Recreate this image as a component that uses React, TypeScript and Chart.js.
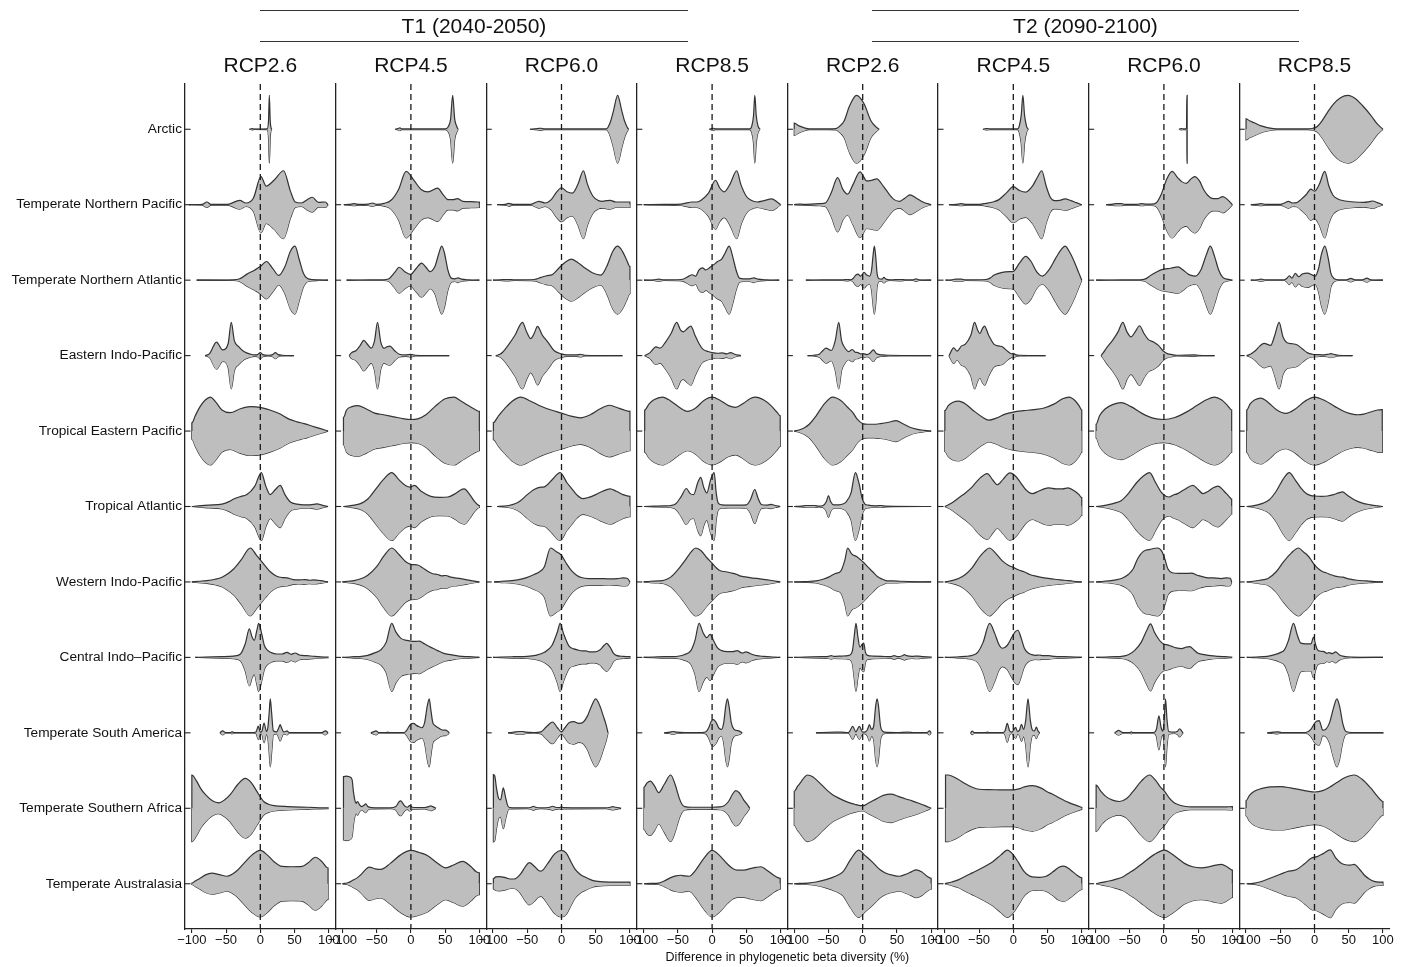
import React, { useEffect, useRef } from "react";
import { Chart, registerables } from "chart.js";

Chart.register(...registerables);

// ---------------- data ----------------
const REGIONS = [
  "Arctic",
  "Temperate Northern Pacific",
  "Temperate Northern Atlantic",
  "Eastern Indo-Pacific",
  "Tropical Eastern Pacific",
  "Tropical Atlantic",
  "Western Indo-Pacific",
  "Central Indo\u2013Pacific",
  "Temperate South America",
  "Temperate Southern Africa",
  "Temperate Australasia",
];
const PERIODS = ["T1 (2040-2050)", "T2 (2090-2100)"];
const SCENARIOS = ["RCP2.6", "RCP4.5", "RCP6.0", "RCP8.5"];
const X_TICKS = [-100, -50, 0, 50, 100];
const X_TITLE = "Difference in phylogenetic beta diversity (%)";

// Violin outlines: per region, [value, relative half-width in % of max]
const t1Rcp26 = [
  [[-16,0],[-12,2],[-9,0.5],[10,1],[12,25],[13.2,100],[14.5,25],[16,2],[17,0]],
  [[-104,0],[-85,1],[-78,8],[-72,1],[-48,1],[-30,13],[-21,5],[-10,20],[1,83],[8.5,55],[20,72],[34,100],[44,40],[51,8],[60,5],[70,17],[76,22],[85,7],[95,8],[99,0]],
  [[-93,0],[-40,1],[-30,4],[-20,17],[-8,30],[0,40],[9,55],[18,35],[27,14],[36,40],[44,85],[50.7,100],[57,60],[63,20],[70,4],[85,1],[99,0]],
  [[-80.5,0],[-74,6],[-64,40],[-55,17],[-47,35],[-42.4,98],[-38,45],[-32,27],[-24,12],[-14,4],[-8,2],[-4,3],[0,9],[3.5,3],[12,1],[18,3],[22,9],[26,3],[32,1],[49,0]],
  [[-100,24],[-95,45],[-88,72],[-80,92],[-73,100],[-65,85],[-56,62],[-44,54],[-30,65],[-15,72],[0,70],[14,62],[29,50],[42,35],[54,27],[64,22],[75,15],[88,7],[99,0]],
  [[-100,0],[-90,2],[-75,4],[-56,7],[-45,15],[-39,22],[-28,30],[-19.5,35],[-8,60],[1.5,100],[8,60],[14.6,35],[22,50],[29,62],[36,35],[44,13],[54,7],[63,5],[72,5],[78,6],[83,8],[90,4],[99,0]],
  [[-100,0],[-90,2],[-78,4],[-66,8],[-56,14],[-47,25],[-39,38],[-28,65],[-14.6,100],[-6,80],[0,65],[8,45],[14.6,30],[24,17],[32,13],[39,12],[48,7],[56,6],[65,7],[72,5],[78,6],[88,4],[99,0]],
  [[-95,0],[-80,1],[-56,2],[-39,4],[-29,10],[-22,40],[-16,84],[-12,60],[-8.8,50],[-5,80],[-2.4,100],[2,70],[6,35],[10,22],[16,14],[24,10],[32,10],[39,15],[45,9],[51,13],[57,7],[68,5],[80,3],[99,1]],
  [[-59,0],[-55,6],[-51,1],[-44,1],[-41.5,3],[-38,1],[-10,1],[-6,3],[-3,20],[0,2],[2,3],[5.5,29],[9,4],[11,15],[13,60],[14.6,100],[16.5,60],[19,6],[24,3],[27,15],[29,24],[31,15],[34,3],[37,4],[39,6],[42,1],[90,1],[95,6],[99,0]],
  [[-100,98],[-93,80],[-87,58],[-80,40],[-70,22],[-61,16],[-52,25],[-44,40],[-33,70],[-22,88],[-13,75],[-5,50],[5,20],[12,12],[20,8],[40,5],[70,3],[99,1]],
  [[-100,2],[-95,8],[-88,16],[-80,26],[-70.7,31],[-60,27],[-48.8,22],[-36,35],[-24,60],[-12,85],[0,98],[10,85],[20,65],[31.7,51],[45,50],[61,51],[70,62],[80.5,78],[90,65],[96,50],[99,46]],
];

const t1Rcp45 = [
  [[-23,0],[-19,2],[-16,4],[-13,1],[50,1],[54,6],[58,30],[61,100],[64,30],[67,8],[69,0]],
  [[-98,0],[-90,1],[-83,3],[-75,1],[-62,2],[-56,5],[-50,1],[-39,4],[-29,13],[-18,45],[-7,98],[5,70],[15,45],[25,38],[39,49],[47,30],[54,15],[62,15],[68,18],[76,10],[88,9],[100,8]],
  [[-94,0],[-60,1],[-40,1],[-32,4],[-24,22],[-17,38],[-9,25],[-1,17],[8,35],[15.6,50],[22,38],[28,25],[35,40],[41,80],[45,100],[49,80],[54,30],[59,6],[64,4],[69,7],[74,3],[85,1],[100,0]],
  [[-90,0],[-87,8],[-80,15],[-74,30],[-69,45],[-63,32],[-58,22],[-53,45],[-48.8,98],[-44,40],[-39,22],[-35,26],[-30.7,28],[-24,15],[-17,4],[-8,2],[0,4],[6,1],[56,0]],
  [[-98.5,40],[-94,62],[-86,72],[-78,75],[-65,65],[-53,53],[-40,48],[-25,42],[-10,36],[0,34],[10,36],[22,48],[35,72],[50,95],[63,100],[72,90],[80,80],[88,70],[95,62],[100,58]],
  [[-98.5,0],[-90,2],[-83,4],[-72,10],[-63,22],[-50,55],[-40,80],[-28,100],[-18,80],[-8,62],[-1,57],[5,62],[15,45],[29,30],[42,27],[54,28],[65,38],[72,48],[78,52],[86,35],[93,15],[100,3]],
  [[-100,0],[-92,2],[-83,4],[-72,10],[-63,20],[-50,45],[-40,75],[-28,100],[-17,80],[-8,60],[0,52],[10,50],[17,42],[24,32],[32,24],[39,22],[45,18],[51,19],[58,14],[68,11],[80,7],[90,3],[100,0]],
  [[-100,0],[-90,1],[-83,2],[-72,3],[-63,6],[-52,14],[-44,22],[-36,45],[-28,100],[-22,75],[-14.6,56],[-6,50],[0,48],[7,47],[12,48],[18,42],[24,35],[32,27],[39,20],[48,12],[58.5,8],[70,4],[85,2],[100,0]],
  [[-58.5,0],[-55,3],[-51,6],[-47,1],[-36,1],[-34,2],[-32,1],[-10,1],[-6,8],[-3,18],[0,26],[4,28],[8,22],[12,18],[16,15],[20,30],[24,80],[26.8,100],[29,70],[32,30],[35,22],[40,15],[44,10],[48,8],[51,8],[54,4],[56,0]],
  [[-98.5,93],[-94,95],[-90,93],[-86,85],[-84,50],[-82,25],[-80,15],[-78,20],[-75,10],[-72,5],[-68,10],[-66,13],[-63,5],[-58,2],[-30,1],[-22,5],[-17,20],[-14.6,22],[-12,15],[-8,5],[-5,3],[-2,8],[0,7],[2,3],[20,2],[26,5],[29,7],[32,5],[36.6,0]],
  [[-100,0],[-97,1],[-92,3],[-85,10],[-78,18],[-73,27],[-67,40],[-61,49],[-52,44],[-44,42],[-30,60],[-15,85],[0,98],[12,92],[24,83],[38,62],[51,47],[62,55],[75.6,66],[88,50],[95,36],[100,32]],
];

const t1Rcp60 = [
  [[-46,0],[-35,2],[-30,3],[-25,1],[65,1],[68,6],[72,25],[76,55],[82,100],[88,55],[92,25],[96,6],[98,0]],
  [[-94,0],[-82,1],[-77,4],[-71,1],[-45,1],[-33,10],[-24,5],[-15,15],[-8,35],[0,50],[8,38],[16,34],[24,60],[32,100],[38,60],[46,25],[54,12],[60,10],[66,12],[71,13],[79,8],[90,8],[100,8]],
  [[-100,0],[-90,1],[-79,2],[-68,1],[-40,2],[-30,8],[-22,13],[-13,17],[-4,35],[5,52],[14.6,62],[25,50],[35,35],[45,22],[57.6,15],[66,40],[75,85],[82,100],[89,85],[95,60],[100,40]],
  [[-96,0],[-90,4],[-86,10],[-78,30],[-68,60],[-57,98],[-51,70],[-45,50],[-40,65],[-35,86],[-28,60],[-20,40],[-11,15],[0,5],[8,2],[22,2],[28,4],[34,1],[89,0]],
  [[-99.5,25],[-92,45],[-83,66],[-72,88],[-59.5,100],[-45,88],[-30,73],[-15,62],[0,53],[14,44],[28,39],[42,48],[56,65],[70,76],[80,70],[90,63],[100,58]],
  [[-94,0],[-85,1],[-77,3],[-68,8],[-60,17],[-50,35],[-40,50],[-30,57],[-25,58],[-14,78],[-2,100],[8,70],[14,55],[22,35],[31,23],[40,27],[50,35],[60,45],[71,52],[80,45],[90,35],[100,30]],
  [[-98.5,0],[-88,2],[-76,3],[-64,6],[-52,12],[-40,22],[-32,30],[-25,45],[-16,100],[-8,90],[0,78],[7,55],[14,35],[22,20],[29,13],[40,10],[55,10],[70,9],[82,10],[90,12],[96,11],[100,0]],
  [[-100,0],[-88,1],[-70,2],[-50,3],[-38,6],[-25,15],[-14,35],[-6,75],[-2,100],[3,70],[11,33],[18,25],[23.4,22],[30,19],[35.6,19],[42,16],[48,16],[56,22],[62,35],[66,41],[71,30],[76,12],[80,6],[90,3],[100,2]],
  [[-78,0],[-70,2],[-62,4],[-57,4],[-52,2],[-40,1],[-30,3],[-22,18],[-13,32],[-6,15],[0,3],[5,15],[11,30],[18,33],[25,28],[32,32],[38,50],[44,80],[50,100],[56,80],[61,50],[65,25],[68,0]],
  [[-99.5,99],[-97.5,95],[-95,60],[-92,30],[-89,25],[-85,60],[-82,35],[-79,10],[-76,2],[-50,1],[-44,3],[-41,6],[-38,3],[-30,1],[-17,3],[-13,6],[-9,3],[-3,2],[0,4],[3,2],[65,1],[71,3],[75,5],[79,3],[87,0]],
  [[-99.5,15],[-96,20],[-91,21],[-82,18],[-75,14],[-69,14],[-60,28],[-53,50],[-47,62],[-40,52],[-34,40],[-30,37],[-20,60],[-10,88],[0,98],[7,90],[13.7,65],[20,42],[27,28],[33,21],[45,10],[53,7],[70,5],[85,5],[100,5]],
];

const t1Rcp85 = [
  [[-4,0],[-1,2],[2,3],[5,1],[55,1],[58,10],[60.5,40],[62.4,100],[64.5,40],[67,10],[70,0]],
  [[-100,0],[-70,1],[-45,2],[-40,4],[-29,8],[-22,8],[-16,13],[-5,35],[5,72],[11,50],[17.6,38],[26,60],[36,100],[42,60],[50,25],[57,13],[66,8],[76,12],[87,17],[95,8],[100,0]],
  [[-99.5,0],[-85,1],[-78,3],[-71,1],[-45,2],[-40,5],[-34,12],[-29,16],[-24,12],[-19,30],[-14,36],[-9,30],[-3,38],[2,45],[8,55],[14,62],[19,80],[25,100],[30,70],[35,30],[40,6],[46,4],[55,4],[61,7],[67,3],[80,1],[98,0]],
  [[-98.5,0],[-91,8],[-82,26],[-76,22],[-68,40],[-60,65],[-51.7,98],[-46,75],[-42,70],[-36,80],[-31,87],[-25,60],[-19,35],[-14,20],[-6,12],[0,9],[8,7],[15,8],[21,5],[27,9],[33,4],[42,0]],
  [[-98.5,62],[-92,80],[-85,92],[-72.7,100],[-60,88],[-48,70],[-36,58],[-24,68],[-12,90],[0,100],[12,90],[24,75],[34.6,70],[46,82],[56,96],[64,100],[75,92],[86,75],[95,55],[99.5,45]],
  [[-99.5,0],[-85,1],[-70,2],[-60,3],[-53,8],[-45,30],[-37.6,53],[-32,38],[-27,35],[-21,70],[-16.6,86],[-12,55],[-7.8,40],[-2,80],[3,100],[6,40],[9,10],[14,5],[25,4],[40,4],[50,5],[56,20],[62.4,50],[67,25],[72,6],[79,4],[86,6],[92,3],[99.5,0]],
  [[-100,0],[-90,2],[-78,3],[-70,5],[-60,15],[-50,36],[-40,62],[-30,90],[-24,100],[-16,92],[-8,72],[0,55],[6,42],[12,33],[20,30],[27,27],[35,23],[42,17],[55,13],[70,9],[85,5],[99.5,0]],
  [[-100,0],[-85,1],[-70,2],[-56,2],[-48,4],[-41,8],[-31,20],[-25,50],[-19,100],[-13,72],[-7.8,58],[-3,68],[2,50],[8,28],[14,20],[22,17],[30,17],[37,20],[42,14],[45,13],[49,16],[53,14],[57,10],[65,5],[75,3],[90,1],[99.5,0]],
  [[-70,0],[-62,2],[-57,4],[-52,2],[-40,1],[-15,1],[-9,3],[-5,15],[-1,35],[2,39],[6,30],[10,14],[13.7,10],[17,30],[20,80],[22.4,100],[25,75],[28,30],[32,10],[36,7],[40,5],[44,0]],
  [[-99.5,62],[-95,75],[-90,80],[-84,65],[-78,46],[-70,70],[-60.5,98],[-54,70],[-48,30],[-44,12],[-40,5],[-30,3],[-15,3],[0,3],[10,4],[17,7],[24,20],[30,42],[34.6,52],[40,45],[46,25],[51,12],[55,0]],
  [[-99.5,0],[-90,1],[-78,2],[-70,8],[-60.5,18],[-53,23],[-46,25],[-40,23],[-33.6,22],[-24,40],[-12,75],[0,98],[10,85],[22.4,58],[30,45],[37,40],[46,40],[57,45],[64,48],[71,50],[80,40],[90,25],[96,18],[99.5,16]],
];

const t2Rcp26 = [
  [[-100,18],[-93,10],[-85,4],[-78,1],[-50,1],[-39,2],[-32,12],[-27,25],[-19,70],[-9,100],[2,75],[12,25],[19,8],[24,0]],
  [[-100,0],[-93,2],[-86,1],[-62,3],[-54,6],[-46,35],[-36.6,80],[-29,45],[-22,31],[-14,60],[-4,97],[6,70],[13,72],[20.5,76],[30,55],[39,30],[46,15],[54,10],[62,20],[69,29],[78,20],[88,8],[100,0]],
  [[-83,0],[-60,1],[-30,1],[-22,2],[-18,1],[-14,5],[-10,15],[-7,18],[-3,12],[2,23],[6,15],[10,12],[13,30],[15,70],[17,100],[19,70],[21,20],[24,4],[28,3],[31,8],[34,3],[40,1],[56,2],[62,1],[74,1],[78,4],[82,1],[100,0]],
  [[-80.5,0],[-72,1],[-63,5],[-58,15],[-53.7,22],[-46,15],[-40,45],[-35,98],[-31,45],[-27,26],[-20.5,12],[-15,18],[-11,10],[-7,9],[-3,5],[1,6],[6,3],[10,6],[15.6,17],[20,6],[29,2],[40,1],[100,0]],
  [[-100,0],[-92,4],[-85,10],[-78,20],[-68,45],[-56,80],[-44,100],[-32,90],[-22,70],[-14.6,55],[-8,35],[0,22],[8,20],[16,20],[26,22],[38,26],[48.8,31],[58,22],[68,12],[80,5],[90,2],[100,0]],
  [[-100,0],[-90,1],[-83,3],[-70,3],[-64,1],[-58,3],[-53,15],[-50,32],[-47,15],[-42,5],[-35,5],[-28,8],[-24,14],[-17,40],[-10.7,100],[-5,65],[-1,25],[3,8],[8,4],[19,2],[27,3],[34,1],[100,0]],
  [[-100,0],[-85,1],[-68,3],[-58,8],[-49,15],[-40,25],[-32,32],[-26,65],[-22,100],[-17,85],[-14.6,80],[-10,76],[-7,72],[-3,65],[1,58],[7,45],[14.6,30],[22,15],[29,8],[36,3],[44,3],[55,2],[100,0]],
  [[-100,0],[-85,1],[-60,2],[-50,3],[-46,5],[-42,3],[-30,4],[-20,6],[-15,20],[-12.5,60],[-9.8,100],[-7,60],[-4,30],[-1,38],[1.5,42],[4,15],[7,6],[15,4],[28,3],[40,2],[46,5],[52,2],[58,5],[61,8],[64,5],[72,3],[80.5,4],[88,2],[100,1]],
  [[-68.3,0],[-60,1],[-39,2],[-32,2],[-22,1],[-19.5,3],[-14.6,19],[-10,3],[-4.9,19],[0,2],[4,3],[7,10],[9.8,24],[13,10],[16,20],[19,80],[21,100],[23,80],[26,20],[29,5],[32,2],[50,1],[66,2],[75,1],[94,1],[97.6,6],[100,0]],
  [[-100,50],[-95,65],[-90,78],[-85,92],[-80.5,98],[-73,93],[-63,75],[-53,55],[-44,40],[-35,30],[-22,18],[-12,12],[-3,8],[1,8],[8,15],[19.5,27],[30,38],[41.5,42],[52,35],[62,28],[72,22],[82,15],[92,7],[100,0]],
  [[-100,0],[-92,1],[-80,2],[-68,5],[-53.7,12],[-40,22],[-29,35],[-18,70],[-6,99],[4,82],[14.6,63],[25,42],[34,31],[44,25],[53.7,22],[63,28],[71,35],[78,41],[86,35],[94,22],[100,16]],
];

const t2Rcp45 = [
  [[-44.4,0],[-40,2],[-38,2],[-34,1],[6,1],[8.5,8],[11.5,40],[14,100],[16.5,40],[19.5,8],[22,0]],
  [[-94,0],[-84,1],[-76,3],[-68,1],[-50,1],[-40,4],[-30,8],[-21,15],[-10,35],[0,53],[9,42],[18,37],[28,55],[35,80],[41.5,100],[48,55],[54,22],[60,12],[68,13],[75.6,17],[84,12],[92,6],[100,0]],
  [[-99,0],[-90,1],[-84,3],[-76,3],[-70,1],[-40,2],[-34,6],[-28,15],[-16,23],[-5,25],[0,26],[9,50],[18,70],[26,55],[34,25],[42.4,12],[52,30],[62,65],[70,90],[75.6,100],[83,80],[90,50],[96,20],[100,0]],
  [[-94,0],[-87,23],[-82,13],[-76,28],[-70,34],[-62,60],[-56.6,98],[-52,75],[-48.8,65],[-45,80],[-42,87],[-36,60],[-28,33],[-20,28],[-16,26],[-8,12],[-2,5],[0,7],[3,3],[10,1],[47,0]],
  [[-100,60],[-95,75],[-88,85],[-79.5,88],[-70,80],[-58,60],[-46,42],[-35.6,32],[-25,38],[-12,50],[0,56],[15,60],[30,63],[45,68],[60,80],[72,95],[81.5,100],[90,90],[96,75],[100,62]],
  [[-100,0],[-90,10],[-80,25],[-70,40],[-60,58],[-48,85],[-38,97],[-30,78],[-23.4,64],[-15,80],[-5,99],[3,90],[10,72],[18,50],[27.8,38],[37,45],[45,52],[52,55],[62,52],[72,52],[80,55],[90,45],[96,35],[100,26]],
  [[-100,0],[-90,4],[-80,10],[-70,22],[-60,42],[-50,72],[-42,90],[-35,100],[-26,85],[-16,62],[-8,50],[0,43],[8,35],[15.6,30],[24,22],[33,17],[45,12],[60,8],[75,5],[88,2],[100,0]],
  [[-100,0],[-85,1],[-70,3],[-60,6],[-52,15],[-44,45],[-34.6,100],[-27,70],[-21,38],[-16,27],[-9,35],[-2,60],[3,76],[6.8,80],[11,60],[16,28],[20.5,15],[27,8],[33,6],[37.6,7],[44,5],[52,5],[60,3],[75,2],[100,0]],
  [[-62.4,0],[-60,5],[-57,1],[-40,1],[-38,2],[-35,1],[-15,1],[-12,6],[-8.8,28],[-5.5,6],[-2,2],[1,10],[3.4,16],[6,4],[9,8],[12,25],[15,10],[18,35],[21.5,100],[25,35],[28,8],[31,6],[33.7,17],[36,6],[38.5,0]],
  [[-99,98],[-95,98],[-90,95],[-80,85],[-70,72],[-60,62],[-50,56],[-35,55],[-15,54],[0,54],[8,57],[16,63],[28,67],[40,60],[50,48],[57,42],[66,32],[75,22],[82,16],[90,10],[96,6],[100,3]],
  [[-100,0],[-90,5],[-79.5,12],[-70,22],[-60,32],[-50,42],[-40.5,52],[-30,65],[-18,85],[-8.8,99],[0,85],[8.3,60],[15,38],[22,25],[27.8,20],[38,19],[48,22],[58,35],[66,48],[74,52],[84,40],[93,25],[100,17]],
];

const t2Rcp60 = [
  [[22,0],[25,2],[29,1],[33,1],[33.5,100],[34,100]],
  [[-84.4,0],[-78,1],[-70,3],[-62,3],[-57,1],[-40,1],[-33,3],[-27,2],[-18,2],[-11,6],[-4,30],[4,75],[12,98],[20,80],[26,68],[32.7,63],[39,75],[45,83],[52,70],[58,45],[64,28],[72,18],[79,18],[86,24],[93,15],[100,0]],
  [[-99,0],[-60,1],[-35,1],[-28,3],[-18.5,15],[-10,25],[-3,31],[10,35],[20.5,39],[28,30],[36,17],[46,12],[54,30],[62,75],[67.8,100],[74,70],[80,30],[86,8],[92,3],[100,0]],
  [[-91.7,0],[-88,10],[-84,22],[-75,45],[-67,70],[-60,98],[-54,70],[-48,55],[-42,70],[-35.6,88],[-29,65],[-23,48],[-15,40],[-8,30],[-3,18],[0,12],[5,6],[12,3],[18,1],[45,2],[50,1],[74,0]],
  [[-99,20],[-94,45],[-86,65],[-75,78],[-62.4,84],[-48,72],[-32,52],[-16,38],[0,34],[16,40],[32,55],[48,75],[62,92],[74,100],[84,92],[93,75],[99,62]],
  [[-99,0],[-90,2],[-82,5],[-72,10],[-62,18],[-52,38],[-40,70],[-30,90],[-21,100],[-12,70],[-4,42],[3,30],[8,28],[14,34],[20,38],[30,50],[42.4,62],[50,50],[57,38],[65,45],[72,55],[79,60],[88,45],[95,30],[99,22]],
  [[-99,0],[-88,2],[-80,3],[-70,6],[-62,10],[-52,22],[-45,38],[-38,70],[-30,90],[-20,96],[-9,100],[-3,90],[1,70],[6,38],[12,27],[22,25],[32,25],[40,26],[50,19],[62,13],[72,12],[84,10],[92,12],[97,11],[99,0]],
  [[-99,0],[-85,1],[-70,2],[-62,3],[-52,8],[-43,20],[-33,45],[-25,80],[-19.5,99],[-14,75],[-8,55],[-4,45],[0,39],[5,37],[10.7,33],[18,28],[26,26],[32,30],[37.6,32],[44,22],[50,12],[59.5,8],[68,5],[80,3],[90,2],[99,1]],
  [[-72,0],[-69,4],[-66.3,7],[-63,4],[-60,1],[-50,1],[-47.8,3],[-45,1],[-15,1],[-11,10],[-7.3,50],[-4,15],[-1.5,5],[0.5,40],[2.4,100],[4.5,40],[7,4],[15,2],[20,5],[23,12],[26,5],[28,0]],
  [[-99,68],[-92,50],[-85,35],[-75,24],[-65,20],[-55,28],[-45,50],[-33,80],[-21,98],[-12,82],[-5,62],[1,50],[8,30],[14,18],[20.5,11],[30,6],[40,4],[50,4],[70,4],[90,4],[100,5]],
  [[-99,0],[-90,4],[-80,8],[-72,12],[-60,20],[-50,33],[-43,42],[-30,62],[-15,85],[1,99],[10,90],[20,75],[30,60],[42,50],[54.6,47],[66,50],[76,55],[84,57],[92,50],[98,42],[100,40]],
];

const t2Rcp85 = [
  [[-100,31],[-95,25],[-88,19],[-78,10],[-69,5],[-60,2],[-54,1],[-10,1],[-2,3],[4,8],[11,25],[19,50],[28,75],[38,93],[49,100],[60,90],[70,70],[82,42],[92,15],[100,0]],
  [[-93,0],[-86,1],[-78,3],[-71,1],[-50,1],[-44,5],[-38,10],[-32,5],[-26,6],[-20,15],[-12,30],[-5.4,46],[0,40],[7,60],[15,98],[21,55],[27,28],[34,17],[45,11],[58,8],[72,7],[80,9],[85,11],[92,6],[100,0]],
  [[-93,0],[-84,1],[-78,3],[-72,1],[-44,1],[-40,6],[-37,13],[-33,6],[-28,20],[-23,10],[-18,18],[-10,21],[-3,15],[1,12],[6,35],[10,75],[15,100],[20,65],[24,20],[29,4],[35,1],[47,1],[53,5],[59,1],[70,1],[76.6,6],[82,1],[100,0]],
  [[-99,0],[-93,5],[-86,15],[-80,28],[-73.6,36],[-64,30],[-58,60],[-51.7,98],[-46,55],[-40,38],[-32,35],[-25,31],[-18,20],[-10,8],[-3,4],[4,3],[14,2],[20,4],[24,6],[28,4],[35,1],[55.6,0]],
  [[-99,62],[-94,80],[-87,92],[-78.5,97],[-68,85],[-55,62],[-42,52],[-28,65],[-14,88],[0,100],[15,90],[30,72],[45,56],[57,49],[63,48],[72,50],[82,56],[92,62],[99,63]],
  [[-99,0],[-90,2],[-83,5],[-75,10],[-66,20],[-56,45],[-46,80],[-37,100],[-28,78],[-20,55],[-12,38],[-5,32],[0,31],[10,30],[19,31],[28,35],[35,40],[41,43],[48,33],[58,20],[70,10],[82,5],[92,2],[100,0]],
  [[-99,0],[-90,2],[-80,5],[-68,10],[-56,30],[-45,60],[-34,85],[-23.4,100],[-16,88],[-10,78],[-5,65],[0,50],[6,38],[12,30],[17,27],[23,22],[30,17],[36,15],[41,14],[50,9],[62,5],[75,3],[88,1],[100,0]],
  [[-99,0],[-85,1],[-69,3],[-58,8],[-50,14],[-44,22],[-38,50],[-30.7,100],[-25,65],[-20,42],[-13,40],[-5,40],[-1.5,60],[2,35],[4.4,22],[9,18],[14,17],[18,12],[21,14],[26,11],[31,16],[36,8],[43,3],[55,1],[100,0]],
  [[-69,0],[-60,2],[-54,3],[-48,1],[-12.7,1],[-5.4,10],[0,28],[3,34],[6.8,36],[9.5,22],[11.7,8],[16,10],[22,30],[28,75],[32.7,100],[37,75],[41,30],[44,10],[46,4],[55,1],[100,1]],
  [[-100,22],[-95,38],[-88,50],[-78,58],[-65,63],[-49,64],[-35,60],[-20,54],[0,48],[12,52],[22,62],[32,75],[44,90],[58,98],[70,85],[82,60],[92,35],[100,20]],
  [[-99,0],[-90,1],[-80,5],[-64,17],[-50,28],[-39.5,36],[-27,41],[-15,58],[-5,75],[4,80],[12,88],[23,100],[31,76],[38,62],[45,56],[52,55],[58,57],[66,42],[73,25],[80,14],[87,7],[94,5],[100,5]],
];

const PANELS = [t1Rcp26, t1Rcp45, t1Rcp60, t1Rcp85, t2Rcp26, t2Rcp45, t2Rcp60, t2Rcp85];

// ---------------- layout / style ----------------
const W = 1414;
const H = 967;
const PLOT_LEFT = 185;
const PANEL_W = 150.6;
const PLOT_TOP = 84;
const X_AXIS_H = 30;
const BOTTOM_PAD = 8;
const HALF = 0.45; // max half-width of a violin in row units
const FILL = "#BEBEBE";
const LINE = "#333333";
const AXIS = "#222222";
const FONT = '"Liberation Sans", Arial, Helvetica, sans-serif';

const fmtTick = (v: number) => (v < 0 ? "\u2212" + Math.abs(v) : String(v));

function buildDatasets(profiles: number[][][]) {
  const ds: any[] = [];
  profiles.forEach((knots, r) => {
    const upper: { x: number; y: number }[] = [];
    const lower: { x: number; y: number }[] = [];
    const first = knots[0];
    const last = knots[knots.length - 1];
    if (first[1] > 0) {
      upper.push({ x: first[0], y: r });
      lower.push({ x: first[0], y: r });
    }
    knots.forEach(([x, w]) => {
      const h = (w / 100) * HALF;
      upper.push({ x, y: r - h });
      lower.push({ x, y: r + h });
    });
    if (last[1] > 0) {
      upper.push({ x: last[0], y: r });
      lower.push({ x: last[0], y: r });
    }
    const common = {
      borderColor: LINE,
      borderWidth: 1.2,
      pointRadius: 0,
      cubicInterpolationMode: "monotone",
      showLine: true,
    };
    ds.push({ ...common, data: upper, fill: "+1", backgroundColor: FILL });
    ds.push({ ...common, data: lower, fill: false, backgroundColor: FILL });
  });
  return ds;
}

const overlayPlugin = {
  id: "violinOverlay",
  afterDatasetsDraw(chart: any) {
    const { ctx, chartArea, scales } = chart;
    const x = scales.x;
    const y = scales.y;
    ctx.save();
    ctx.strokeStyle = AXIS;
    ctx.lineWidth = 1.1;
    REGIONS.forEach((_, i) => {
      const py = y.getPixelForValue(i);
      ctx.beginPath();
      ctx.moveTo(chartArea.left, py);
      ctx.lineTo(chartArea.left + 5.5, py);
      ctx.stroke();
    });
    const px = x.getPixelForValue(0);
    ctx.setLineDash([6, 4]);
    ctx.strokeStyle = "#1a1a1a";
    ctx.lineWidth = 1.3;
    ctx.beginPath();
    ctx.moveTo(px, chartArea.top);
    ctx.lineTo(px, chartArea.bottom);
    ctx.stroke();
    ctx.restore();
  },
};

function makeConfig(profiles: number[][][], p: number): any {
  const left = PLOT_LEFT + p * PANEL_W;
  const right = left + PANEL_W;
  const first = p === 0;
  return {
    type: "line",
    data: { datasets: buildDatasets(profiles) },
    plugins: [overlayPlugin],
    options: {
      animation: false,
      responsive: false,
      devicePixelRatio: 1,
      events: [],
      layout: {
        padding: { left: first ? 0 : left, right: W - right, top: PLOT_TOP, bottom: BOTTOM_PAD },
      },
      plugins: { legend: { display: false }, tooltip: { enabled: false }, title: { display: false } },
      scales: {
        x: {
          type: "linear",
          min: -110,
          max: 110,
          afterBuildTicks: (s: any) => {
            s.ticks = X_TICKS.map((v) => ({ value: v }));
          },
          afterFit: (s: any) => {
            s.height = X_AXIS_H;
            s.paddingLeft = 0;
            s.paddingRight = 0;
          },
          grid: { display: true, drawOnChartArea: false, drawTicks: true, tickLength: 4, color: AXIS, lineWidth: 1.1 },
          border: { display: true, color: AXIS, width: 1.3 },
          ticks: {
            autoSkip: false,
            maxRotation: 0,
            padding: 0,
            color: "#111",
            font: { family: FONT, size: 13 },
            callback: (v: any) => fmtTick(Number(v)),
          },
        },
        y: {
          type: "linear",
          reverse: true,
          min: -0.6,
          max: 10.6,
          afterBuildTicks: (s: any) => {
            s.ticks = REGIONS.map((_, i) => ({ value: i }));
          },
          afterFit: (s: any) => {
            s.width = first ? PLOT_LEFT : 0;
            s.paddingTop = 0;
            s.paddingBottom = 0;
          },
          grid: { display: false, drawTicks: false },
          border: { display: true, color: AXIS, width: 1.3 },
          ticks: {
            display: first,
            padding: 3,
            color: "#111",
            font: { family: FONT, size: 13.7 },
            callback: (_v: any, i: number) => REGIONS[i],
          },
        },
      },
    },
  };
}

export default function App() {
  const refs = useRef<(HTMLCanvasElement | null)[]>([]);

  useEffect(() => {
    const charts = PANELS.map((profiles, p) => new Chart(refs.current[p] as HTMLCanvasElement, makeConfig(profiles, p)));
    return () => charts.forEach((c) => c.destroy());
  }, []);

  const groupSpans = [
    { x1: 260, x2: 688 },
    { x1: 872, x2: 1299 },
  ];

  return (
    <div
      style={{
        position: "absolute",
        left: 0,
        top: 0,
        width: W,
        height: H,
        background: "#ffffff",
        fontFamily: FONT,
        color: "#111",
        overflow: "hidden",
      }}
    >
      {PANELS.map((_, p) => (
        <canvas
          key={p}
          ref={(el) => {
            refs.current[p] = el;
          }}
          width={W}
          height={H}
          style={{ position: "absolute", left: 0, top: 0, width: W, height: H }}
        />
      ))}
      {PERIODS.map((label, g) => (
        <React.Fragment key={label}>
          <div style={{ position: "absolute", left: groupSpans[g].x1, width: groupSpans[g].x2 - groupSpans[g].x1, top: 10, height: 0, borderTop: "1px solid #333" }} />
          <div style={{ position: "absolute", left: groupSpans[g].x1, width: groupSpans[g].x2 - groupSpans[g].x1, top: 41, height: 0, borderTop: "1px solid #333" }} />
          <div
            style={{
              position: "absolute",
              left: groupSpans[g].x1,
              width: groupSpans[g].x2 - groupSpans[g].x1,
              top: 12,
              lineHeight: "28px",
              fontSize: 21,
              textAlign: "center",
              whiteSpace: "nowrap",
            }}
          >
            {label}
          </div>
        </React.Fragment>
      ))}
      {PANELS.map((_, p) => (
        <div
          key={"s" + p}
          style={{
            position: "absolute",
            left: PLOT_LEFT + p * PANEL_W,
            width: PANEL_W,
            top: 51,
            lineHeight: "28px",
            fontSize: 21,
            textAlign: "center",
            whiteSpace: "nowrap",
          }}
        >
          {SCENARIOS[p % 4]}
        </div>
      ))}
      <div
        style={{
          position: "absolute",
          left: PLOT_LEFT,
          width: PANEL_W * 8,
          top: 948,
          lineHeight: "18px",
          fontSize: 12.5,
          textAlign: "center",
          whiteSpace: "nowrap",
        }}
      >
        {X_TITLE}
      </div>
    </div>
  );
}
